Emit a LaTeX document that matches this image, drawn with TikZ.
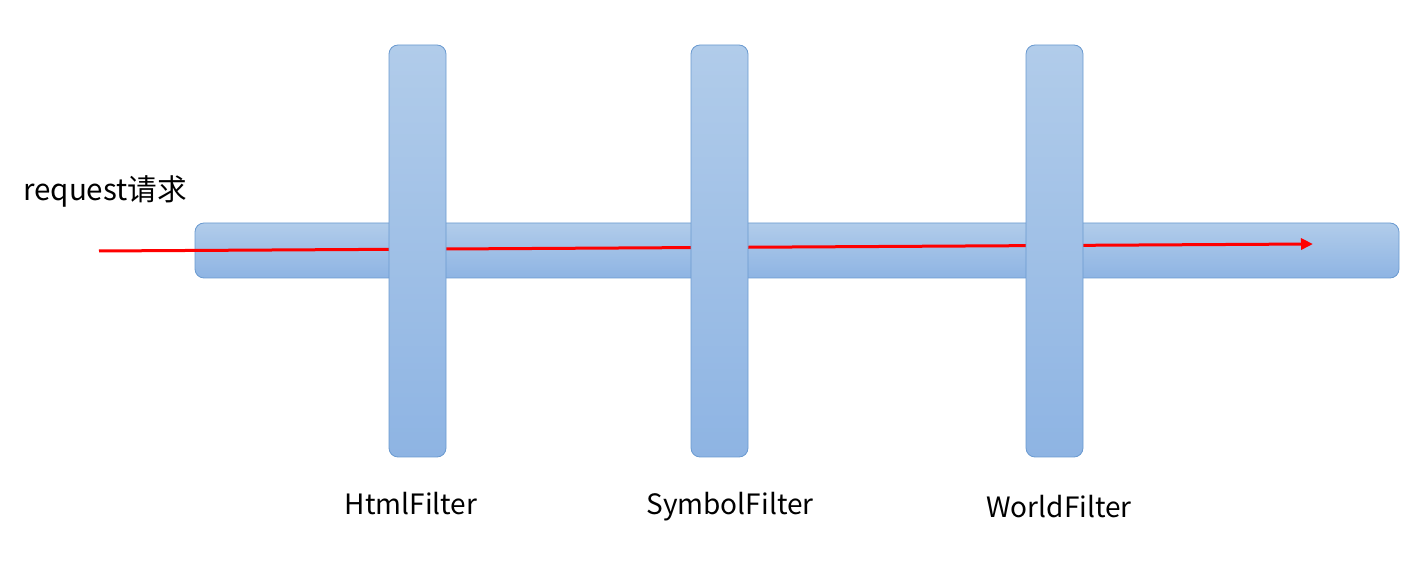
\documentclass[tikz,border=0pt]{standalone}
\usepackage{fontspec}
\setmainfont{Noto Sans CJK SC}
\usetikzlibrary{arrows.meta}
\definecolor{bartop}{HTML}{B1CCEA}
\definecolor{barbot}{HTML}{8EB4E3}
\definecolor{barline}{HTML}{6A9AD0}
\definecolor{arrred}{HTML}{FF0000}
\tikzset{
  bar/.style={draw=barline, line width=0.4pt, rounded corners=4.5pt, top color=bartop, bottom color=barbot, inner sep=0pt},
  hbar/.style={bar, minimum width=602pt, minimum height=27.5pt},
  vbar/.style={bar, minimum width=28.5pt, minimum height=206pt},
  lbl/.style={font=\fontsize{14pt}{17pt}\selectfont, text=black, inner sep=0pt},
  flow/.style={draw=arrred, line width=1.5pt, -{Triangle[length=6pt,width=5.5pt]}}
}
\begin{document}
\begin{tikzpicture}[x=0.5pt,y=-0.5pt]
\useasboundingbox (0,0) rectangle (1420,587);
\node[hbar] (pipe) at (797,250.5) {};
\coordinate (start) at (99,251);
\coordinate (end) at (1313,244);
\draw[flow] (start) -- (end);
\node[vbar] (html) at (417.5,251) {};
\node[vbar] (symbol) at (719.5,251) {};
\node[vbar] (world) at (1054.5,251) {};
\node[lbl, font=\fontsize{14.8pt}{18pt}\selectfont] (req) at (105,191) {request请求};
\node[lbl] (htmll) at (411,504) {HtmlFilter};
\node[lbl] (syml) at (730,507) {SymbolFilter};
\node[lbl] (worldl) at (1059,507) {WorldFilter};
\end{tikzpicture}
\end{document}
